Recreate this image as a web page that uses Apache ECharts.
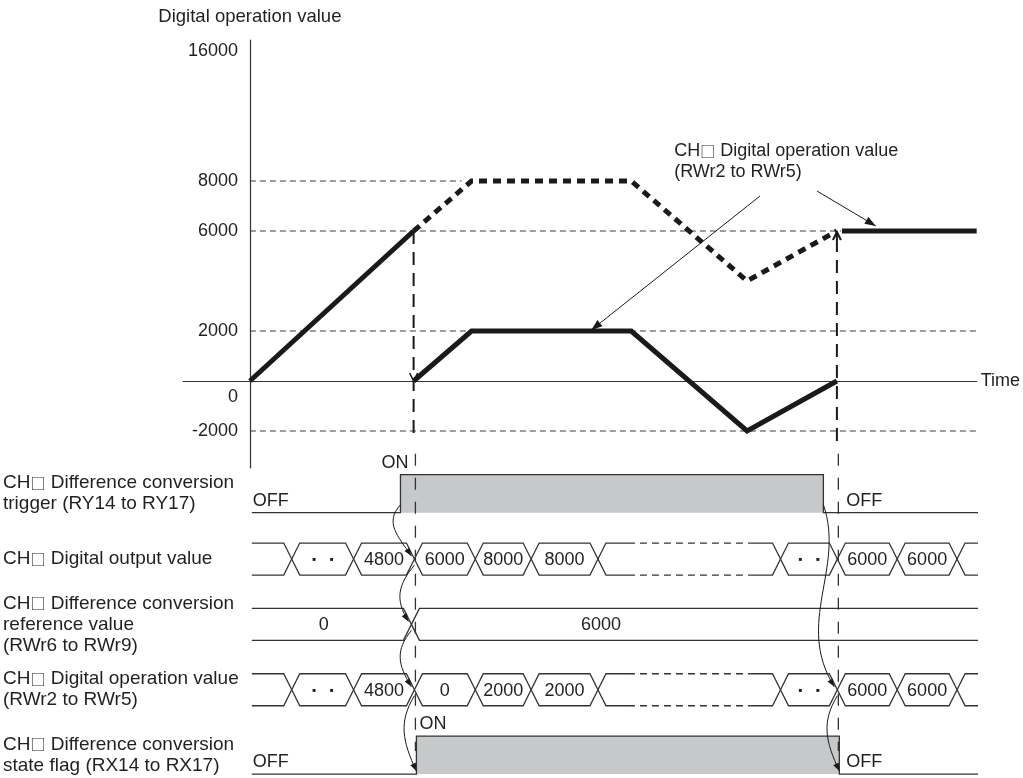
<!DOCTYPE html>
<html>
<head>
<meta charset="utf-8">
<script src="https://cdn.jsdelivr.net/npm/echarts@6/dist/echarts.min.js"></script>
<style>
  html, body { margin: 0; padding: 0; background: #fff; }
  #chart { width: 1023px; height: 778px; }
</style>
</head>
<body>
<div id="chart"></div>
<script>
// ---- upper chart: digital operation value over time ----
const yTickValues = [-2000, 0, 2000, 6000, 8000];
const yTopLabel = '16000';            // full scale, shown at the top of the broken axis
const guideValues = [8000, 6000, 2000, -2000];
const guideEnds = [212, 592, 728, 728];
const rampUp = [[0, 0], [164, 6000]];
const opSolid = [[164, 0], [222, 2000], [382, 2000], [498, -2000], [588, 0]];
const opDotted = [[164, 6000], [222, 8000], [382, 8000], [498, 4000], [588, 6000]];
const opHold = [[593, 6000], [728, 6000]];
const triggerTime = 164;
const stopTime = 588;
const calloutLines = ['CH\u25A1 Digital operation value', '(RWr2 to RWr5)'];
const calloutAt = [425, 9600];
const calloutFrom = [[511, 7400], [568, 7600]];
const calloutTo = [[342, 2040], [627, 6200]];

// ---- lower timing rows ----
const rowLabels = [
  'CH\u25A1 Difference conversion\ntrigger (RY14 to RY17)',
  'CH\u25A1 Digital output value',
  'CH\u25A1 Difference conversion\nreference value\n(RWr6 to RWr9)',
  'CH\u25A1 Digital operation value\n(RWr2 to RWr5)',
  'CH\u25A1 Difference conversion\nstate flag (RX14 to RX17)'
];
const busEdges = [0, 40, 102, 163, 224, 280, 347, 530, 587, 647, 707, 728];
const outputValues = ['', '..', '4800', '6000', '8000', '8000', null, '..', '6000', '6000', ''];
const operationValues = ['', '..', '4800', '0', '2000', '2000', null, '..', '6000', '6000', ''];
const refEdges = [0, 160, 728];
const refValues = ['0', '6000'];
const refLabelTimes = [72, 350];
const signalRows = [0, 4];
const signalOn = [149, 165];
const signalOff = [573, 589];
const linkFrom = [[149, 0], [163, 1], [160, 2], [163, 3], [573, 0], [587, 3]];
const linkTo = [[163, 1], [160, 2], [163, 3], [165, 4], [587, 3], [589, 4]];

const TEXT = '#231f20';
const INK = '#1a1a1a';
const THIN = '#333';
const GRAY = '#c7c8ca';
const FONT = '"Liberation Sans", Arial, sans-serif';
const SQ_FONT = '"Noto Sans CJK JP", "DejaVu Sans", sans-serif';
const yMin = -3480, yMax = 13640, yBreakValue = 13200, yCut = -2400;

// the channel box glyph is drawn a bit larger than the Latin text
const withBox = s => s.replace(/\u25A1/g, '{sq|\u25A1}');

function arrowTip(tip, from, len, wid) {
  const dx = tip[0] - from[0], dy = tip[1] - from[1];
  const d = Math.hypot(dx, dy) || 1;
  const ux = dx / d, uy = dy / d;
  const bx = tip[0] - ux * len, by = tip[1] - uy * len;
  return [tip, [bx - uy * wid / 2, by + ux * wid / 2], [bx + uy * wid / 2, by - ux * wid / 2]];
}

function lineSeries(data, style, z) {
  return {
    type: 'line', xAxisIndex: 0, yAxisIndex: 0, data: data, symbol: 'none',
    silent: true, z: z, lineStyle: Object.assign({ color: INK, cap: 'butt', join: 'miter' }, style)
  };
}

// upper chart marks: event lines, arrow heads, callout
function renderTopMarks(params, api) {
  const c = (t, v) => api.coord([t, v]);
  const kids = [];
  const a0 = c(triggerTime, 6000), a1 = c(triggerTime, yCut);
  kids.push({ type: 'line', shape: { x1: a0[0], y1: a0[1], x2: a1[0], y2: a1[1] },
    style: { stroke: INK, lineWidth: 2, lineDash: [13, 8] } });
  const d = c(triggerTime, 0);
  kids.push({ type: 'polyline', shape: { points: [[d[0] - 4, d[1] - 8], d, [d[0] + 4, d[1] - 8]] },
    style: { stroke: INK, lineWidth: 1.5, fill: null } });
  const b0 = c(stopTime, yCut), b1 = c(stopTime, 6000);
  kids.push({ type: 'line', shape: { x1: b0[0], y1: b0[1], x2: b1[0], y2: b1[1] + 12 },
    style: { stroke: INK, lineWidth: 2, lineDash: [13, 8] } });
  kids.push({ type: 'polyline', shape: { points: [[b1[0] - 4, b1[1] + 9], [b1[0], b1[1] + 1], [b1[0] + 4, b1[1] + 9]] },
    style: { stroke: INK, lineWidth: 2, fill: null } });
  kids.push({ type: 'line', shape: { x1: b1[0], y1: b1[1] + 1, x2: b1[0], y2: b1[1] + 12 },
    style: { stroke: INK, lineWidth: 2 } });
  const p = c(calloutAt[0], calloutAt[1]);
  kids.push({ type: 'text', style: { text: withBox(calloutLines.join('\n')), x: p[0], y: p[1], fill: TEXT,
    fontSize: 18, fontFamily: FONT, lineHeight: 21, align: 'left', verticalAlign: 'top',
    rich: { sq: { fontFamily: SQ_FONT, fontSize: 15, lineHeight: 21, fill: TEXT } } } });
  calloutFrom.forEach((f, i) => {
    const s = c(f[0], f[1]), e = c(calloutTo[i][0], calloutTo[i][1]);
    kids.push({ type: 'line', shape: { x1: s[0], y1: s[1], x2: e[0], y2: e[1] }, style: { stroke: INK, lineWidth: 1 } });
    kids.push({ type: 'polygon', shape: { points: arrowTip(e, s, 11, 8) }, style: { fill: INK } });
  });
  return { type: 'group', children: kids };
}

// bus segments (hexagon cells that cross at each change)
function buildBus(row, edges, labels, labelTimes) {
  return labels.map((label, i) => ({
    row: row, t0: edges[i], t1: edges[i + 1], label: label,
    labelT: labelTimes ? labelTimes[i] : (edges[i] + edges[i + 1]) / 2,
    first: i === 0, last: i === labels.length - 1
  }));
}
const busSegments = [].concat(
  buildBus(1, busEdges, outputValues),
  buildBus(2, refEdges, refValues, refLabelTimes),
  buildBus(3, busEdges, operationValues)
);

function renderBus(params, api) {
  const seg = busSegments[params.dataIndex];
  const y = api.coord([0, seg.row])[1];
  const x0 = api.coord([seg.t0, seg.row])[0];
  const x1 = api.coord([seg.t1, seg.row])[0];
  const h = 8, half = 16;
  const kids = [];
  const lineStyle = { stroke: THIN, lineWidth: 1.3, fill: null };
  [-half, half].forEach(off => {
    const yy = y + off;
    const left = seg.first ? [[x0, yy]] : [[x0, y], [x0 + h, yy]];
    const right = seg.last ? [[x1, yy]] : [[x1 - h, yy], [x1, y]];
    if (seg.label === null) {
      const la = x0 + h + 22, rb = x1 - h - 22;
      kids.push({ type: 'polyline', shape: { points: left.concat([[la, yy]]) }, style: lineStyle });
      kids.push({ type: 'line', shape: { x1: la, y1: yy, x2: rb, y2: yy }, style: { stroke: THIN, lineWidth: 1.3, lineDash: [7, 5] } });
      kids.push({ type: 'polyline', shape: { points: [[rb, yy]].concat(right) }, style: lineStyle });
    } else {
      kids.push({ type: 'polyline', shape: { points: left.concat(right) }, style: lineStyle });
    }
  });
  if (seg.label) {
    const isDots = seg.label === '..';
    kids.push({ type: 'text', style: {
      text: isDots ? '\u25AA    \u25AA' : seg.label,
      x: api.coord([seg.labelT, seg.row])[0], y: y + 1, fill: TEXT,
      fontSize: isDots ? 12 : 18, fontFamily: FONT, align: 'center', verticalAlign: 'middle' } });
  }
  return { type: 'group', children: kids };
}

// ON/OFF signal rows
function renderSignal(params, api) {
  const i = params.dataIndex, row = signalRows[i];
  const y = api.coord([0, row])[1];
  const half = 19, top = y - half, bot = y + half;
  const xs = api.coord([0, row])[0], xe = api.coord([728, row])[0];
  const xon = api.coord([signalOn[i], row])[0], xoff = api.coord([signalOff[i], row])[0];
  const xTrig = api.coord([triggerTime, row])[0], xStop = api.coord([stopTime, row])[0];
  const txt = (text, x, yy, align) => ({ type: 'text', style: { text: text, x: x, y: yy, fill: TEXT,
    fontSize: 18, fontFamily: FONT, align: align, verticalAlign: 'middle' } });
  return { type: 'group', children: [
    { type: 'rect', shape: { x: xon, y: top, width: xoff - xon, height: bot - top }, style: { fill: GRAY } },
    { type: 'polyline', shape: { points: [[xs, bot], [xon, bot], [xon, top], [xoff, top], [xoff, bot], [xe, bot]] },
      style: { stroke: THIN, lineWidth: 1.3, fill: null } },
    txt('OFF', xs + 1, bot - 12, 'left'),
    txt('OFF', xStop + 8, bot - 12, 'left'),
    i === 0 ? txt('ON', xTrig - 7, top - 12, 'right') : txt('ON', xTrig + 4, top - 12, 'left')
  ] };
}

// event lines through the timing rows
function renderLowerEvents(params, api) {
  const kids = [triggerTime, stopTime].map(t => {
    const p0 = api.coord([t, 0]), p1 = api.coord([t, 4]);
    return { type: 'line', shape: { x1: p0[0], y1: p0[1] - 40, x2: p1[0], y2: p1[1] - 4 },
      style: { stroke: THIN, lineWidth: 1.3, lineDash: [12, 12] } };
  });
  return { type: 'group', children: kids };
}

// curved cause/effect arrows
function renderLinks(params, api) {
  const kids = [];
  linkFrom.forEach((f, i) => {
    const t = linkTo[i];
    const sIsSig = signalRows.indexOf(f[1]) >= 0, eIsSig = signalRows.indexOf(t[1]) >= 0;
    const s = api.coord(f), e = api.coord(t);
    s[1] += sIsSig ? 11 : 6;
    e[1] += eIsSig ? 16 : -3;
    if (!eIsSig) e[0] -= 3;
    const dy = e[1] - s[1];
    const right = f[0] > 400;
    let cp1, cp2;
    if (right && dy > 100) { cp1 = [s[0] + 22, s[1] + dy * 0.35]; cp2 = [e[0] - 40, e[1] - dy * 0.35]; }
    else { cp1 = [s[0] - 16, s[1] + dy * 0.35]; cp2 = [e[0] - 14, e[1] - dy * 0.4]; }
    kids.push({ type: 'bezierCurve', shape: { x1: s[0], y1: s[1], cpx1: cp1[0], cpy1: cp1[1], cpx2: cp2[0], cpy2: cp2[1], x2: e[0], y2: e[1] },
      style: { stroke: INK, lineWidth: 1, fill: null } });
    kids.push({ type: 'polygon', shape: { points: arrowTip(e, cp2, 8, 6) }, style: { fill: INK } });
  });
  return { type: 'group', children: kids };
}

const chart = echarts.init(document.getElementById('chart'), null, { renderer: 'canvas' });
chart.setOption({
  animation: false,
  backgroundColor: '#fff',
  textStyle: { fontFamily: FONT, color: TEXT },
  grid: [
    { left: 183, right: 45, top: 40, height: 428 },
    { left: 183, right: 45, top: 461, height: 317 }
  ],
  xAxis: [
    { gridIndex: 0, type: 'value', min: -67, max: 728, name: 'Time', nameLocation: 'end', nameGap: 4,
      nameTextStyle: { fontSize: 18, color: TEXT, fontFamily: FONT },
      axisLine: { onZero: true, lineStyle: { color: THIN, width: 1.2 } },
      axisTick: { show: false }, axisLabel: { show: false }, splitLine: { show: false } },
    { gridIndex: 1, type: 'value', min: -67, max: 728, show: false }
  ],
  yAxis: [
    { gridIndex: 0, type: 'value', min: yMin, max: yMax, name: 'Digital operation value', nameLocation: 'end', nameGap: 14,
      nameTextStyle: { fontSize: 18.5, color: TEXT, fontFamily: FONT, align: 'center' },
      axisLine: { show: true, onZero: true, lineStyle: { color: THIN, width: 1.2 } },
      axisTick: { show: false }, splitLine: { show: false },
      axisLabel: {
        customValues: yTickValues.concat([yBreakValue]), margin: -55, fontSize: 18, color: TEXT, fontFamily: FONT,
        lineHeight: 32,
        formatter: v => v === yBreakValue ? yTopLabel : (v === 0 ? '\n0' : String(v))
      } },
    { gridIndex: 1, type: 'value', min: -0.5, max: 4.35, inverse: true,
      axisLine: { show: false }, axisTick: { show: false }, splitLine: { show: false },
      axisLabel: {
        customValues: rowLabels.map((_, i) => i), align: 'left', margin: 182,
        fontSize: 19, lineHeight: 21, color: TEXT, fontFamily: FONT,
        formatter: v => withBox(rowLabels[v]),
        rich: { sq: { fontFamily: SQ_FONT, fontSize: 15, lineHeight: 21, color: TEXT } }
      } }
  ],
  series: [].concat(
    guideValues.map((v, i) => lineSeries([[0, v], [guideEnds[i], v]], { color: '#3a3a3a', width: 1, type: [6, 4] }, 1)),
    [
      lineSeries(rampUp, { width: 5 }, 3),
      lineSeries(opSolid, { width: 5 }, 3),
      lineSeries(opDotted, { width: 5, type: [8, 6] }, 3),
      lineSeries(opHold, { width: 5 }, 3),
      { type: 'custom', xAxisIndex: 0, yAxisIndex: 0, data: [[0, 0]], renderItem: renderTopMarks, silent: true, z: 4 },
      { type: 'custom', xAxisIndex: 1, yAxisIndex: 1, data: signalRows.map((r, i) => [signalOn[i], r]), renderItem: renderSignal, silent: true, z: 1 },
      { type: 'custom', xAxisIndex: 1, yAxisIndex: 1, data: busSegments.map(s => [s.t0, s.row]), renderItem: renderBus, silent: true, z: 2 },
      { type: 'custom', xAxisIndex: 1, yAxisIndex: 1, data: [[0, 0]], renderItem: renderLowerEvents, silent: true, z: 3 },
      { type: 'custom', xAxisIndex: 1, yAxisIndex: 1, data: [[0, 0]], renderItem: renderLinks, silent: true, z: 4 }
    ]
  )
});
</script>
</body>
</html>
